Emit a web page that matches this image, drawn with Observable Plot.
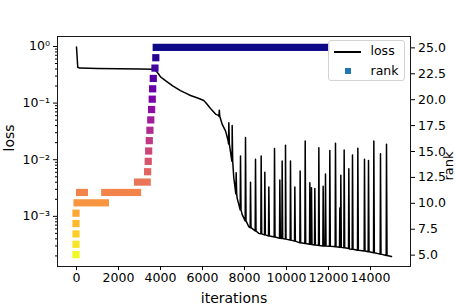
<!DOCTYPE html>
<html><head><meta charset="utf-8">
<script src="https://cdn.jsdelivr.net/npm/d3@7"></script>
<script src="https://cdn.jsdelivr.net/npm/@observablehq/plot@0.6"></script>
<style>
body{margin:0;background:#fff;}
#chart{position:relative;width:456px;height:304px;font-family:"DejaVu Sans",sans-serif;overflow:hidden;}
#chart svg{position:absolute;left:0;top:0;}
.legend{position:absolute;left:328px;top:40px;width:77px;height:41px;border:1px solid #d3d3d3;border-radius:3px;background:rgba(255,255,255,0.8);box-sizing:border-box;font-size:12.5px;color:#000;}
.legend .ln{position:absolute;left:5px;top:10px;width:27px;height:1.5px;background:#000;}
.legend .sq{position:absolute;left:15.5px;top:27px;width:6px;height:6px;background:#1f77b4;}
.legend .t{position:absolute;left:41.5px;line-height:14px;white-space:nowrap;}
</style></head><body><div id="chart"></div>
<script>
// ---- loss baseline (iteration, loss)
const lossIter  = [0, 60, 150, 1000, 2000, 3000, 3600, 3760, 3900, 4000, 4300, 4600, 4950, 5200, 5430, 5800, 6060, 6200, 6380, 6620, 6780, 6940, 7100, 7220, 7330, 7410, 7490, 7650, 7890, 8200, 8680, 9320, 9950, 10750, 11500, 12240, 13000, 13840, 14500, 15000];
const lossValue = [0.98, 0.43, 0.415, 0.41, 0.405, 0.40, 0.395, 0.38, 0.33, 0.29, 0.24, 0.20, 0.166, 0.15, 0.136, 0.122, 0.111, 0.097, 0.080, 0.064, 0.060, 0.042, 0.032, 0.0215, 0.014, 0.0094, 0.0048, 0.0021, 0.00107, 0.00066, 0.00050, 0.00044, 0.000396, 0.000337, 0.000310, 0.000293, 0.000265, 0.000240, 0.000215, 0.000195];
// ---- loss spikes (iteration, peak loss, loss just before/after)
const spikeIter = [6800, 7254, 7413, 7603, 7810, 8048, 8286, 8524, 8794, 8968, 9159, 9429, 9683, 9794, 9952, 10190, 10397, 10650, 10890, 11111, 11190, 11349, 11540, 11746, 11857, 12063, 12333, 12540, 12587, 12746, 12968, 13143, 13397, 13714, 13905, 14159, 14476, 14762];
const spikePeak = [0.075, 0.045, 0.040, 0.0059, 0.0116, 0.0246, 0.0040, 0.0102, 0.0116, 0.0060, 0.0033, 0.0157, 0.0044, 0.0095, 0.018, 0.0095, 0.0033, 0.0063, 0.0215, 0.0039, 0.0032, 0.0031, 0.0163, 0.0034, 0.0056, 0.0146, 0.0195, 0.0014, 0.0053, 0.0148, 0.0069, 0.0121, 0.0159, 0.0102, 0.0097, 0.0215, 0.0128, 0.0188];
const spikeBase = [0.058, 0.019, 0.0094, 0.0025, 0.0013, 0.00083, 0.00063, 0.00055, 0.00049, 0.00047, 0.00045, 0.00043, 0.00041, 0.000405, 0.000396, 0.00038, 0.000365, 0.00034, 0.00033, 0.00032, 0.000318, 0.000312, 0.000306, 0.0003, 0.000298, 0.000295, 0.00029, 0.000285, 0.000283, 0.000278, 0.00027, 0.000262, 0.000252, 0.000245, 0.000237, 0.000228, 0.000215, 0.000203];
// ---- rank (value held over an iteration span)
const rankValue = [5, 6, 7, 8, 9, 10, 11, 11, 12, 13, 14, 15, 16, 17, 18, 19, 20, 21, 22, 23, 24, 25];
const rankStart = [0, 0, 0, 0, 0, 50, 170, 1370, 2930, 3410, 3440, 3460, 3490, 3520, 3560, 3600, 3630, 3650, 3680, 3760, 3800, 3820];
const rankEnd   = [0, 0, 0, 0, 0, 1400, 400, 2930, 3390, 3410, 3440, 3460, 3490, 3520, 3560, 3600, 3630, 3650, 3680, 3760, 3800, 11900];
// ---- ticks
const xTicks = [0, 2000, 4000, 6000, 8000, 10000, 12000, 14000];
const lossTicks = [1, 0.1, 0.01, 0.001];
const lossTickLabels = ["10\u2070", "10\u207B\u00B9", "10\u207B\u00B2", "10\u207B\u00B3"];
const rankTicks = [5, 7.5, 10, 12.5, 15, 17.5, 20, 22.5, 25];
const rankTickLabels = ["5.0", "7.5", "10.0", "12.5", "15.0", "17.5", "20.0", "22.5", "25.0"];

const pts = lossIter.map((t, i) => ({t, v: lossValue[i]}));
spikeIter.forEach((t, i) => {
  pts.push({t: t - 15, v: spikeBase[i]}, {t, v: spikePeak[i]}, {t: t + 25, v: spikeBase[i]});
});
pts.sort((a, b) => a.t - b.t);
const segs = rankValue.map((r, i) => ({rank: r, start: rankStart[i], end: rankEnd[i]}));

const minor = [];
for (const e of [-4, -3, -2, -1]) for (let k = 2; k <= 9; k++) minor.push(k * Math.pow(10, e));

const W = 456, H = 304;
const xDomain = [-905, 15905];
const font = {fontFamily: "DejaVu Sans", fontSize: "12.5px", color: "black", overflow: "hidden"};

const p1 = Plot.plot({
  width: W, height: H, marginLeft: 57, marginRight: 46, marginTop: 36, marginBottom: 38,
  style: {...font, background: "white"},
  x: {domain: xDomain, label: null},
  y: {type: "log", domain: [1.3e-4, 1.5], label: null},
  marks: [
    Plot.axisX({ticks: xTicks, tickFormat: d3.format("d"), tickSize: 4, tickPadding: 3, label: null}),
    Plot.axisY({ticks: lossTicks, tickFormat: d => lossTickLabels[lossTicks.indexOf(d)], tickSize: 4, tickPadding: 3.5, label: null}),
    Plot.axisY({ticks: minor, tickFormat: () => "", tickSize: 2, label: null}),
    Plot.line(pts, {x: "t", y: "v", stroke: "black", strokeWidth: 1.5}),
    Plot.text(["iterations"], {frameAnchor: "bottom", text: d => d, dy: 36, lineAnchor: "bottom", fontSize: 14}),
    Plot.text(["loss"], {frameAnchor: "left", text: d => d, rotate: -90, dx: -44, lineAnchor: "bottom", fontSize: 14}),
    Plot.frame({stroke: "black", strokeWidth: 0.9})
  ]
});

const p2 = Plot.plot({
  width: W, height: H, marginLeft: 57, marginRight: 46, marginTop: 37, marginBottom: 39,
  style: {...font, background: "transparent"},
  x: {domain: xDomain, axis: null, label: null},
  y: {domain: [4, 26], label: null},
  color: {type: "linear", scheme: "plasma", domain: [5, 25], reverse: true},
  marks: [
    Plot.rect(segs, {x1: "start", x2: "end", y1: "rank", y2: "rank", fill: "rank", inset: -3.6}),
    Plot.axisY({anchor: "right", ticks: rankTicks, tickFormat: d => rankTickLabels[rankTicks.indexOf(d)], tickSize: 4, tickPadding: 3.5, label: null}),
    Plot.text(["rank"], {frameAnchor: "right", text: d => d, rotate: -90, dx: 42.5, lineAnchor: "bottom", fontSize: 13})
  ]
});

const chart = document.getElementById("chart");
chart.appendChild(p1);
chart.appendChild(p2);
const lg = document.createElement("div");
lg.className = "legend";
lg.innerHTML = '<div class="ln"></div><div class="t" style="top:3px">loss</div><div class="sq"></div><div class="t" style="top:22.5px">rank</div>';
chart.appendChild(lg);
</script></body></html>
